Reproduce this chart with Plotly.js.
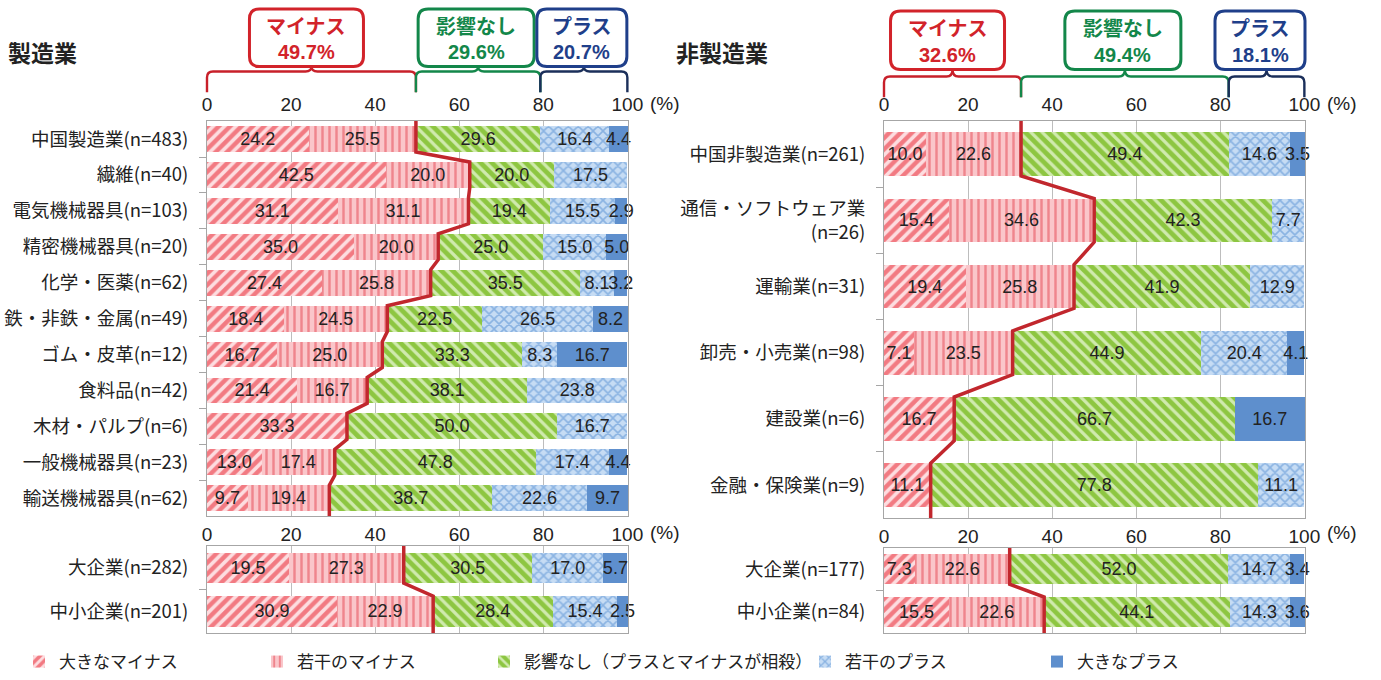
<!DOCTYPE html>
<html><head><meta charset="utf-8">
<script src="https://cdn.plot.ly/plotly-3.0.1.min.js"></script>
<style>html,body{margin:0;padding:0;background:#fff}#chart{width:1381px;height:680px}</style>
</head><body><div id="chart"></div><script>
// ---------- DATA ----------
const seriesNames = ["大きなマイナス","若干のマイナス","影響なし（プラスとマイナスが相殺）","若干のプラス","大きなプラス"];

const mfgCats = ["中国製造業(n=483)","繊維(n=40)","電気機械器具(n=103)","精密機械器具(n=20)","化学・医薬(n=62)","鉄・非鉄・金属(n=49)","ゴム・皮革(n=12)","食料品(n=42)","木材・パルプ(n=6)","一般機械器具(n=23)","輸送機械器具(n=62)"];
const mfgBigMinus   = [24.2,42.5,31.1,35.0,27.4,18.4,16.7,21.4,33.3,13.0,9.7];
const mfgSmallMinus = [25.5,20.0,31.1,20.0,25.8,24.5,25.0,16.7,0,17.4,19.4];
const mfgNone       = [29.6,20.0,19.4,25.0,35.5,22.5,33.3,38.1,50.0,47.8,38.7];
const mfgSmallPlus  = [16.4,17.5,15.5,15.0,8.1,26.5,8.3,23.8,16.7,17.4,22.6];
const mfgBigPlus    = [4.4,0,2.9,5.0,3.2,8.2,16.7,0,0,4.4,9.7];

const mfgSizeCats = ["大企業(n=282)","中小企業(n=201)"];
const mfgSizeBigMinus   = [19.5,30.9];
const mfgSizeSmallMinus = [27.3,22.9];
const mfgSizeNone       = [30.5,28.4];
const mfgSizeSmallPlus  = [17.0,15.4];
const mfgSizeBigPlus    = [5.7,2.5];

const nonCats = ["中国非製造業(n=261)","通信・ソフトウェア業<br>(n=26)","運輸業(n=31)","卸売・小売業(n=98)","建設業(n=6)","金融・保険業(n=9)"];
const nonBigMinus   = [10.0,15.4,19.4,7.1,16.7,11.1];
const nonSmallMinus = [22.6,34.6,25.8,23.5,0,0];
const nonNone       = [49.4,42.3,41.9,44.9,66.7,77.8];
const nonSmallPlus  = [14.6,7.7,12.9,20.4,0,11.1];
const nonBigPlus    = [3.5,0,0,4.1,16.7,0];

const nonSizeCats = ["大企業(n=177)","中小企業(n=84)"];
const nonSizeBigMinus   = [7.3,15.5];
const nonSizeSmallMinus = [22.6,22.6];
const nonSizeNone       = [52.0,44.1];
const nonSizeSmallPlus  = [14.7,14.3];
const nonSizeBigPlus    = [3.4,3.6];

const summaryNames = ["マイナス","影響なし","プラス"];
const mfgSummary = ["49.7%","29.6%","20.7%"];
const nonSummary = ["32.6%","49.4%","18.1%"];
const xTicks = [0,20,40,60,80,100];

// ---------- STYLE ----------
const W = 1381, H = 680;
const XMAX = 100.15;
const FONT = "Liberation Sans, Arial, 'Noto Sans CJK JP', sans-serif";
const JFONT = "'Noto Sans CJK JP', 'Liberation Sans', sans-serif";
const px = v => v / W;
const py = v => 1 - v / H;

const styles = [
  {color:'#F27F86', pattern:{shape:'/', bgcolor:'#F27A82', fgcolor:'#FDDDE0', size:8, solidity:0.45}},
  {color:'#FAC2C6', pattern:{shape:'|', bgcolor:'#FAC6CA', fgcolor:'#EF858D', size:7, solidity:0.35}},
  {color:'#8DC641', pattern:{shape:'\\', bgcolor:'#8DC641', fgcolor:'#D0EAAE', size:8, solidity:0.4}},
  {color:'#C3DAF3', pattern:{shape:'x', bgcolor:'#C6DCF4', fgcolor:'#8AB3E2', size:7, solidity:0.4}},
  {color:'#5E8FCD', pattern:{shape:''}}
];

const panels = [
  {cats:mfgCats, data:[mfgBigMinus,mfgSmallMinus,mfgNone,mfgSmallPlus,mfgBigPlus], xd:[207,628], yd:[122,520], w:0.72, top:true},
  {cats:mfgSizeCats, data:[mfgSizeBigMinus,mfgSizeSmallMinus,mfgSizeNone,mfgSizeSmallPlus,mfgSizeBigPlus], xd:[207,628], yd:[550,638], w:0.7, top:false},
  {cats:nonCats, data:[nonBigMinus,nonSmallMinus,nonNone,nonSmallPlus,nonBigPlus], xd:[884,1305], yd:[122,522], w:0.66, top:true},
  {cats:nonSizeCats, data:[nonSizeBigMinus,nonSizeSmallMinus,nonSizeNone,nonSizeSmallPlus,nonSizeBigPlus], xd:[884,1305], yd:[552,638], w:0.7, top:false}
];

const traces = [];
const layout = {
  width: W, height: H, margin:{l:0,r:0,t:0,b:0},
  paper_bgcolor:'#fff', plot_bgcolor:'#fff',
  barmode:'stack', bargap:0,
  font:{family:FONT, color:'#222', size:16},
  showlegend:true,
  annotations:[], shapes:[]
};

const legendTextX = [62, 300, 527, 848, 1080];

panels.forEach((p, pi) => {
  const sfx = pi === 0 ? '' : String(pi + 1);
  const xa = 'x' + sfx, ya = 'y' + sfx;
  const n = p.cats.length;
  const idx = p.cats.map((c, i) => i);
  p.data.forEach((vals, si) => {
    const st = styles[si];
    const tr = {
      type:'bar', orientation:'h', name: seriesNames[si],
      x: vals, y: idx, xaxis: xa, yaxis: ya, width: p.w,
      marker:{color: st.color, pattern: st.pattern, line:{width:0}},
      text: vals.map(v => v > 0 ? v.toFixed(1) : ''),
      textposition:'inside', insidetextanchor:'middle', textangle:0, constraintext:'none',
      cliponaxis:false,
      textfont:{family:FONT, size:18, color:'#222'},
      hoverinfo:'skip',
      showlegend: pi === 0
    };
    if (pi === 0) tr.legend = si === 0 ? 'legend' : 'legend' + (si + 1);
    traces.push(tr);
  });
  // step line through cumulative minus
  const cum = idx.map(i => p.data[0][i] + p.data[1][i]);
  const h = p.w / 2;
  const lx = [cum[0]], ly = [-0.5];
  idx.forEach(i => { lx.push(cum[i], cum[i]); ly.push(i - h, i + h); });
  lx.push(cum[n-1]); ly.push(n - 0.5);
  traces.push({type:'scatter', mode:'lines', x:lx, y:ly, xaxis:xa, yaxis:ya,
    line:{color:'#C1272D', width:3.5}, showlegend:false, hoverinfo:'skip'});

  layout['xaxis' + sfx] = {
    domain:[px(p.xd[0]), px(p.xd[1])], anchor: ya, side:'top', range:[0,XMAX],
    tickmode:'array', tickvals:xTicks, ticks:'', showgrid:true, gridcolor:'#BDBDBD', gridwidth:1,
    zeroline:false, showline:true, mirror:true, linecolor:'#A6A6A6', linewidth:1,
    tickfont:{family:FONT, size:19, color:'#222'}, ticklabelstandoff: p.top ? 2 : -4, fixedrange:true
  };
  const bounds = idx.slice(0, n - 1).map(i => i + 0.5);
  layout['yaxis' + sfx] = {
    domain:[py(p.yd[1]), py(p.yd[0])], anchor: xa, range:[n - 0.5, -0.5],
    tickmode:'array', tickvals: idx, ticktext: p.cats, ticks:'',
    showgrid:false, zeroline:false, showline:true, mirror:true, linecolor:'#A6A6A6', linewidth:1,
    tickfont:{family:JFONT, size:18.5, color:'#222'}, ticklabelstandoff:14,
    minor:{tickmode:'array', tickvals: bounds, ticks:'outside', ticklen:7, tickcolor:'#A6A6A6', showgrid:false},
    fixedrange:true
  };
  // (%) label
  layout.annotations.push({xref:'paper', yref:'paper', x: px(p.xd[1] + 20), y: py(p.top ? 104 : 536),
    text:'(%)', showarrow:false, xanchor:'left', yanchor:'middle', font:{family:FONT, size:19, color:'#222'}});
});

// legends
for (let si = 0; si < 5; si++) {
  const key = si === 0 ? 'legend' : 'legend' + (si + 1);
  layout[key] = {x: px(legendTextX[si] - 43), y: py(667), xanchor:'left', yanchor:'middle',
    orientation:'h', bgcolor:'rgba(0,0,0,0)', font:{family:JFONT, size:17, color:'#222'}};
}

// panel titles
layout.annotations.push({xref:'paper', yref:'paper', x:px(6), y:py(52), text:'<b>製造業</b>', showarrow:false,
  xanchor:'left', yanchor:'middle', font:{family:JFONT, size:23, color:'#222'}});
layout.annotations.push({xref:'paper', yref:'paper', x:px(674), y:py(52), text:'<b>非製造業</b>', showarrow:false,
  xanchor:'left', yanchor:'middle', font:{family:JFONT, size:23, color:'#222'}});

// summary boxes & brackets
const boxColors = ['#D2232A','#13874A','#1F3F8A'];
const bracketColors = ['#C8202A','#13874A','#1B2F5A'];
const boxW = [114, 116, 90];
function summary(p, labels, geo) {
  const r0 = [p.data[0][0] + p.data[1][0], p.data[2][0], p.data[3][0] + p.data[4][0]];
  let start = 0;
  const L = p.xd[0], Wd = p.xd[1] - p.xd[0];
  r0.forEach((seg, k) => {
    const a = L + start / XMAX * Wd, b = L + Math.min(100, start + seg) / XMAX * Wd;
    start += seg;
    const m = (a + b) / 2;
    const rx = 6, ry = 6;
    const {yh, yb, yt, bt, l1, l2} = geo;
    const path = `M ${px(a)},${py(yb)} L ${px(a)},${py(yh+ry)} Q ${px(a)},${py(yh)} ${px(a+rx)},${py(yh)} ` +
      `L ${px(m-rx)},${py(yh)} Q ${px(m)},${py(yh)} ${px(m)},${py(yt)} Q ${px(m)},${py(yh)} ${px(m+rx)},${py(yh)} ` +
      `L ${px(b-rx)},${py(yh)} Q ${px(b)},${py(yh)} ${px(b)},${py(yh+ry)} L ${px(b)},${py(yb)}`;
    layout.shapes.push({type:'path', xref:'paper', yref:'paper', path, line:{color:bracketColors[k], width:2.4}});
    // box
    let c = m - (k === 0 ? 5 : 2);
    if (c + boxW[k]/2 > p.xd[1]) c = p.xd[1] - boxW[k]/2;
    const x0 = c - boxW[k]/2, x1 = c + boxW[k]/2, y0 = bt, y1 = yt, rr = 10;
    const bpath = `M ${px(x0+rr)},${py(y0)} L ${px(x1-rr)},${py(y0)} Q ${px(x1)},${py(y0)} ${px(x1)},${py(y0+rr)} ` +
      `L ${px(x1)},${py(y1-rr)} Q ${px(x1)},${py(y1)} ${px(x1-rr)},${py(y1)} L ${px(x0+rr)},${py(y1)} ` +
      `Q ${px(x0)},${py(y1)} ${px(x0)},${py(y1-rr)} L ${px(x0)},${py(y0+rr)} Q ${px(x0)},${py(y0)} ${px(x0+rr)},${py(y0)} Z`;
    layout.shapes.push({type:'path', xref:'paper', yref:'paper', path: bpath, fillcolor:'#fff', line:{color:boxColors[k], width:3}});
    layout.annotations.push({xref:'paper', yref:'paper', x:px(c), y:py(l1), text:'<b>'+summaryNames[k]+'</b>', showarrow:false,
      xanchor:'center', yanchor:'middle', font:{family:JFONT, size:20, color:boxColors[k]}});
    layout.annotations.push({xref:'paper', yref:'paper', x:px(c), y:py(l2), text:'<b>'+labels[k]+'</b>', showarrow:false,
      xanchor:'center', yanchor:'middle', font:{family:FONT, size:20, color:boxColors[k]}});
  });
}
summary(panels[0], mfgSummary, {yh:72, yb:93, yt:67, bt:9, l1:26, l2:52});
summary(panels[2], nonSummary, {yh:77, yb:98, yt:70, bt:11, l1:28, l2:55});

Plotly.newPlot('chart', traces, layout, {displayModeBar:false, staticPlot:true});
</script></body></html>
